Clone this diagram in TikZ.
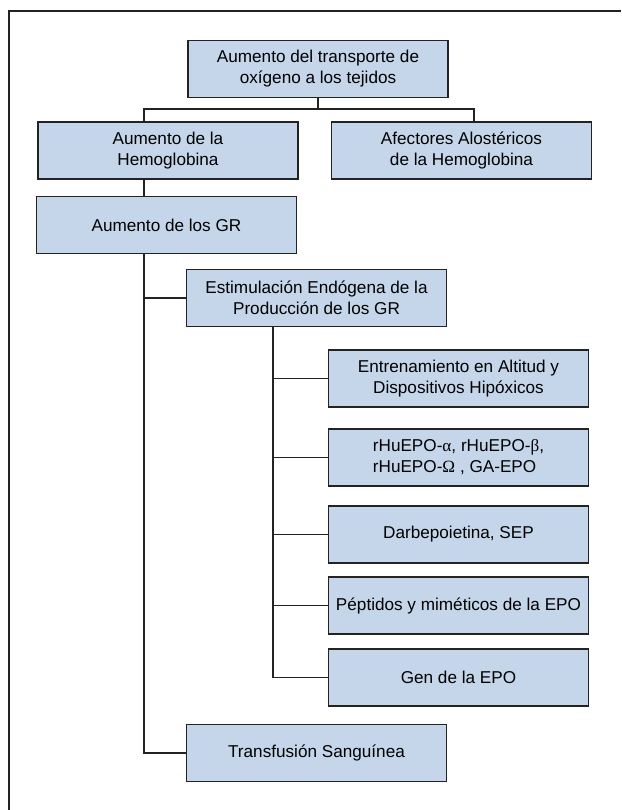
\documentclass[tikz,border=0pt]{standalone}
\usepackage{fontspec}
\setmainfont{Liberation Sans}
\newfontfamily\greekfont{Liberation Serif}
\definecolor{boxblue}{RGB}{197,214,235}
\definecolor{boxline}{RGB}{35,35,35}
\usepackage{tikz}
\newcommand{\grk}[1]{{\greekfont #1}}

\begin{document}
\begin{tikzpicture}[x=0.025cm, y=-0.025cm,
    box/.style={draw=boxline, fill=boxblue, line width=0.9pt, minimum width=6.5cm, minimum height=1.42cm, inner sep=2pt, align=center, font=\fontsize{12.2}{14.9}\selectfont},
    link/.style={draw=boxline, line width=0.75pt}]
    \useasboundingbox (0,0) rectangle (621,810);
    \draw[link] (9,810) -- (9,11) -- (621,11);

    \node[box] (top) at (318,69) {Aumento del transporte de\\oxígeno a los tejidos};
    \node[box] (hemo) at (168,150.5) {Aumento de la\\Hemoglobina};
    \node[box] (afect) at (461.5,150.5) {Afectores Alostéricos\\de la Hemoglobina};
    \node[box] (gr) at (166.5,225) {Aumento de los GR};
    \node[box] (estim) at (316.5,298) {Estimulación Endógena de la\\Producción de los GR};
    \node[box] (entren) at (458.5,378.5) {Entrenamiento en Altitud y\\Dispositivos Hipóxicos};
    \node[box, align=left] (rhu) at (458.5,457.5) {rHuEPO-\grk{α}, rHuEPO-\grk{β},\\rHuEPO-\grk{Ω} , GA-EPO};
    \node[box] (darbe) at (458.5,534.5) {Darbepoietina, SEP};
    \node[box] (pept) at (458.5,605.5) {Péptidos y miméticos de la EPO};
    \node[box] (gen) at (458.5,677.5) {Gen de la EPO};
    \node[box] (transf) at (316.5,753) {Transfusión Sanguínea};

    \coordinate (trunk) at (144,109);
    \coordinate (split) at (474,109);
    \coordinate (subtrunk) at (273,327);

    \draw[link] (top.south) -- (top.south |- trunk);
    \draw[link] (trunk |- hemo.north) -- (trunk) -- (split) -- (split |- afect.north);
    \draw[link] (trunk |- hemo.south) -- (trunk |- gr.north);
    \draw[link] (trunk |- gr.south) |- (transf.west);
    \draw[link] (trunk |- estim.west) -- (estim.west);
    \draw[link] (subtrunk |- estim.south) |- (gen.west);
    \foreach \n in {entren,rhu,darbe,pept} {
        \draw[link] (subtrunk |- \n.west) -- (\n.west);
    }
\end{tikzpicture}
\end{document}
